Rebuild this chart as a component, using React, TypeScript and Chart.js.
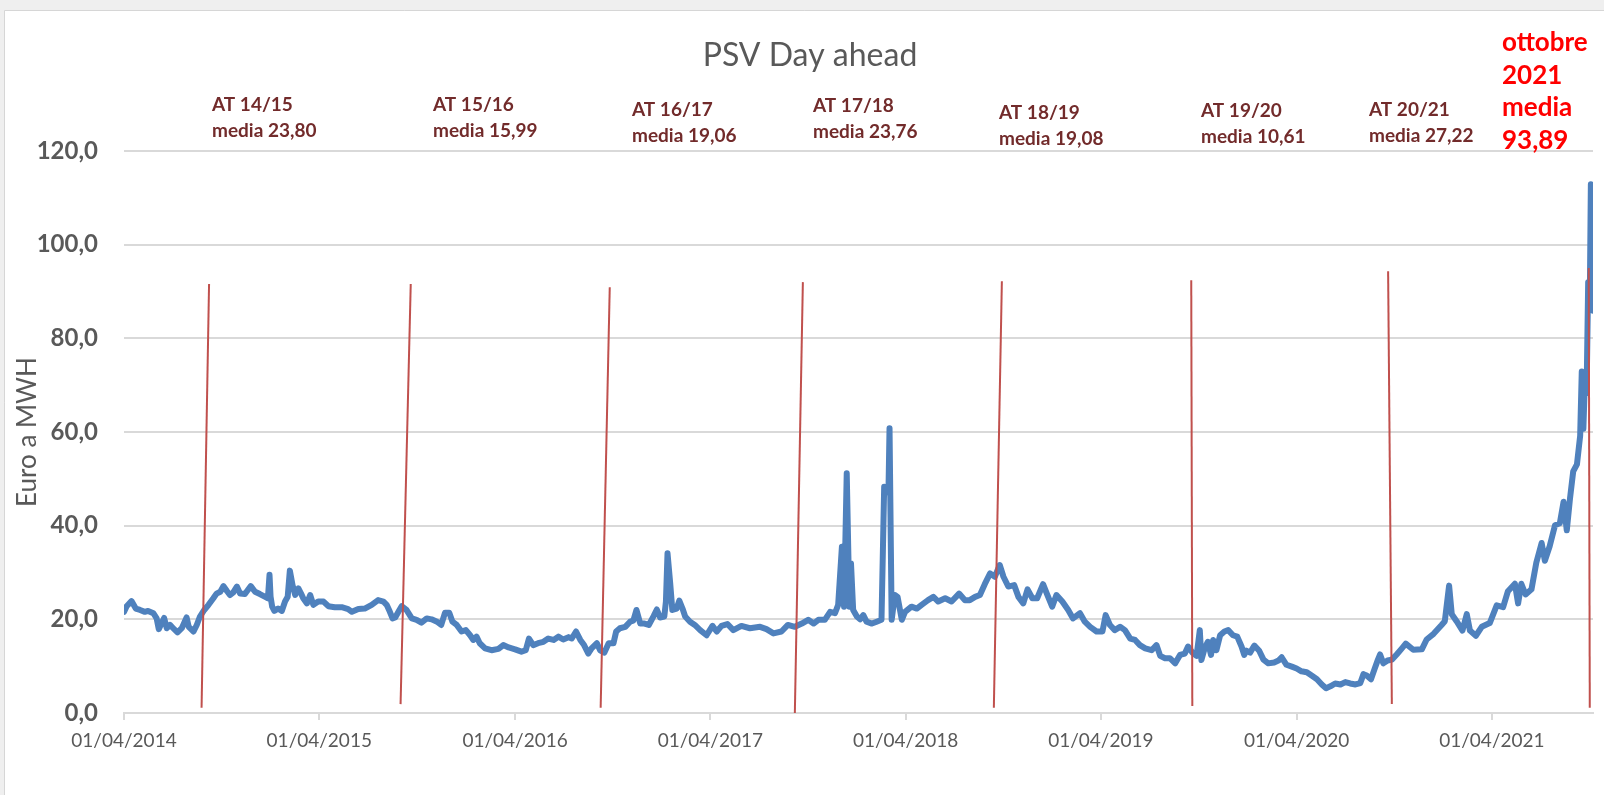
import React, { useEffect, useRef } from 'react';
import { Chart, registerables } from 'chart.js';

Chart.register(...registerables);

// ---- DATA ----
// x: days since 01/04/2014, y: PSV day-ahead price (Euro a MWH)
const days = [
  0, 5, 14, 22, 30, 39, 45, 55, 61, 65, 70, 75, 80, 86, 92, 100, 108, 117, 121, 130, 136, 142, 150, 158, 167, 173, 180, 186, 192, 198,
  204, 211, 217, 226, 237, 245, 254, 264, 269, 272, 274, 277, 281, 288, 295, 301, 306, 310, 315, 320, 326, 331, 335, 342, 348, 354, 363, 373, 382, 394,
  407, 419, 426, 438, 450, 463, 475, 485, 491, 497, 502, 507, 513, 519, 528, 538, 547, 556, 566, 575, 585, 593, 600, 608, 614, 622, 631, 639, 647, 653,
  659, 665, 675, 687, 700, 709, 719, 731, 743, 751, 757, 765, 774, 784, 793, 803, 812, 821, 831, 837, 845, 853, 860, 868, 874, 884, 890, 898, 906, 915,
  920, 927, 937, 946, 952, 958, 965, 973, 981, 990, 996, 1002, 1010, 1013, 1016, 1021, 1025, 1033, 1038, 1044, 1049, 1058, 1067, 1077, 1089, 1100, 1108, 1117, 1128, 1139,
  1154, 1170, 1189, 1201, 1214, 1229, 1241, 1254, 1267, 1279, 1289, 1298, 1310, 1320, 1329, 1335, 1342, 1346, 1351, 1356, 1359, 1363, 1370, 1376, 1382, 1388, 1398, 1407, 1416, 1421,
  1429, 1431, 1435, 1441, 1446, 1454, 1460, 1472, 1482, 1491, 1503, 1513, 1522, 1535, 1547, 1561, 1572, 1581, 1591, 1600, 1609, 1619, 1628, 1637, 1644, 1653, 1664, 1672, 1681, 1689,
  1698, 1707, 1718, 1726, 1735, 1743, 1754, 1765, 1774, 1787, 1796, 1806, 1818, 1829, 1835, 1843, 1852, 1862, 1871, 1881, 1890, 1899, 1909, 1921, 1930, 1937, 1946, 1955, 1965, 1974,
  1983, 1989, 1997, 2005, 2011, 2014, 2020, 2026, 2032, 2036, 2042, 2049, 2057, 2064, 2073, 2081, 2089, 2094, 2098, 2105, 2113, 2122, 2130, 2139, 2150, 2158, 2164, 2173, 2183, 2192,
  2201, 2211, 2220, 2230, 2239, 2247, 2255, 2264, 2274, 2283, 2292, 2302, 2311, 2317, 2323, 2331, 2338, 2344, 2348, 2354, 2362, 2370, 2379, 2388, 2396, 2410, 2426, 2435, 2448, 2463,
  2469, 2477, 2482, 2491, 2502, 2510, 2516, 2527, 2538, 2553, 2566, 2578, 2587, 2600, 2606, 2612, 2620, 2631, 2640, 2650, 2656, 2665, 2675, 2684, 2691, 2697, 2703, 2709, 2716, 2722,
  2725, 2728, 2731, 2734, 2737, 2740, 2742, 2745, 2746,
];
const prices = [
  21.6, 22.8, 23.9, 22.3, 22.0, 21.6, 21.8, 21.3, 20.2, 17.9, 19.1, 20.3, 18.1, 18.8, 18.1, 17.2, 18.1, 20.4, 18.4, 17.4, 18.8, 20.6, 22.0, 23.1, 24.5, 25.5, 25.9, 27.1, 26.1, 25.2,
  25.7, 27.0, 25.5, 25.4, 27.1, 25.9, 25.4, 24.8, 24.5, 29.5, 24.8, 22.7, 21.8, 22.3, 21.8, 23.8, 24.8, 30.4, 27.3, 25.2, 26.6, 25.5, 24.5, 23.4, 25.2, 23.1, 23.8, 23.8, 22.8, 22.6,
  22.6, 22.2, 21.6, 22.2, 22.3, 23.1, 24.1, 23.8, 23.1, 21.6, 20.2, 20.4, 21.6, 22.8, 22.0, 20.2, 19.9, 19.3, 20.2, 20.0, 19.5, 18.8, 21.4, 21.4, 19.5, 18.8, 17.4, 17.7, 16.6, 15.6,
  16.3, 14.9, 13.8, 13.4, 13.7, 14.5, 14.0, 13.6, 13.1, 13.4, 15.9, 14.5, 14.9, 15.2, 15.9, 15.6, 16.3, 15.7, 16.2, 15.9, 17.4, 15.6, 14.5, 12.7, 13.8, 14.9, 13.4, 12.9, 14.9, 14.9,
  17.4, 18.1, 18.4, 19.5, 19.7, 22.0, 19.1, 19.1, 18.8, 20.7, 22.1, 20.4, 20.6, 23.8, 34.1, 27.7, 22.0, 22.3, 24.0, 22.3, 20.6, 19.5, 18.8, 17.7, 16.6, 18.6, 17.4, 18.6, 19.0, 17.7,
  18.6, 18.1, 18.4, 17.9, 17.0, 17.4, 18.8, 18.4, 19.1, 19.9, 19.1, 19.9, 19.9, 21.6, 21.3, 23.1, 35.5, 22.7, 51.2, 22.7, 31.9, 22.0, 20.6, 20.0, 20.9, 19.5, 19.1, 19.5, 19.9, 48.3,
  47.0, 60.8, 19.9, 25.2, 24.8, 19.9, 21.6, 22.7, 22.3, 23.1, 24.1, 24.8, 23.8, 24.5, 23.8, 25.5, 24.1, 24.1, 24.8, 25.2, 27.5, 29.8, 29.1, 31.6, 29.1, 27.0, 27.3, 24.8, 23.4, 26.4,
  24.5, 24.5, 27.5, 25.2, 22.7, 25.2, 23.8, 22.0, 20.2, 21.3, 19.5, 18.4, 17.4, 17.4, 20.9, 18.8, 17.7, 18.4, 17.7, 15.9, 15.6, 14.5, 13.8, 13.4, 14.5, 12.2, 11.7, 11.7, 10.6, 12.4,
  12.7, 14.2, 12.9, 12.2, 17.7, 11.3, 13.8, 15.2, 12.4, 15.6, 13.4, 16.6, 17.4, 17.7, 16.6, 16.3, 14.2, 12.4, 13.3, 12.9, 14.4, 13.3, 11.4, 10.6, 10.8, 11.2, 11.9, 10.3, 9.9, 9.5,
  8.9, 8.7, 8.0, 7.2, 6.1, 5.3, 5.7, 6.3, 6.1, 6.6, 6.3, 6.1, 6.4, 8.3, 8.0, 7.2, 9.5, 11.4, 12.5, 10.6, 11.2, 11.4, 12.5, 13.7, 14.8, 13.5, 13.6, 15.7, 16.9, 18.8,
  19.6, 27.2, 21.1, 19.6, 17.6, 21.1, 17.6, 16.5, 18.4, 19.2, 23.0, 22.6, 26.0, 27.6, 23.4, 27.6, 25.3, 26.4, 32.1, 36.3, 32.5, 35.6, 40.1, 40.5, 45.1, 39.0, 45.8, 51.6, 53.1, 59.2,
  72.9, 60.7, 71.4, 68.3, 92.0, 88.2, 112.9, 88.2, 85.9,
];

const tickDays = [0, 365, 731, 1096, 1461, 1826, 2192, 2557];
const tickLabels = ['01/04/2014', '01/04/2015', '01/04/2016', '01/04/2017', '01/04/2018', '01/04/2019', '01/04/2020', '01/04/2021'];
const yMin = 0;
const yMax = 120;
const yStep = 20;

// hand-drawn thermal-year separators (start/end in days, values)
const sepBottomDays = [145, 517, 891, 1254, 1626, 1997, 2370, 2740];
const sepBottomValues = [1.1, 1.9, 1.1, 0.0, 1.1, 1.5, 1.9, 1.1];
const sepTopDays = [159, 536, 908, 1269, 1641, 1995, 2363, 2738];
const sepTopValues = [91.6, 91.6, 90.9, 92.0, 92.2, 92.4, 94.3, 95.0];

const seasonNames = ['AT 14/15', 'AT 15/16', 'AT 16/17', 'AT 17/18', 'AT 18/19', 'AT 19/20', 'AT 20/21'];
const seasonMeans = ['media 23,80', 'media 15,99', 'media 19,06', 'media 23,76', 'media 19,08', 'media 10,61', 'media 27,22'];
const octoberLines = ['ottobre', '2021', 'media', '93,89'];

const TITLE = 'PSV Day ahead';
const Y_TITLE = 'Euro a MWH';

// ---- LAYOUT (pixels) ----
const W = 1604;
const H = 795;
const seasonLabelX = [212, 433, 632, 813, 999, 1201, 1369];
const seasonLabelY = [105, 105, 110, 106, 113, 111, 110];
const octoberX = 1502;
const octoberY0 = 43;
const octoberStep = 32.5;

const FONT = 'Lato, "Open Sans", "DejaVu Sans", sans-serif';
const GREY = '#595959';
const GRID = '#d9d9d9';

const framePlugin = {
  id: 'frame',
  beforeDraw(chart: any) {
    const ctx = chart.ctx;
    ctx.save();
    ctx.fillStyle = '#efefef';
    ctx.fillRect(0, 0, W, H);
    ctx.fillStyle = '#ffffff';
    ctx.fillRect(5, 11, W - 5, H - 11);
    ctx.strokeStyle = '#d6d6d6';
    ctx.lineWidth = 1;
    ctx.beginPath();
    ctx.moveTo(4.5, H);
    ctx.lineTo(4.5, 10.5);
    ctx.lineTo(W, 10.5);
    ctx.stroke();
    ctx.restore();
  },
  afterDraw(chart: any) {
    const ctx = chart.ctx;
    ctx.save();
    ctx.textBaseline = 'middle';
    // title
    ctx.fillStyle = GREY;
    ctx.font = `32px ${FONT}`;
    ctx.textAlign = 'center';
    ctx.fillText(TITLE, 810, 56);
    // season annotations
    ctx.textAlign = 'left';
    ctx.fillStyle = '#722b2b';
    ctx.font = `bold 19px ${FONT}`;
    seasonNames.forEach((name, i) => {
      ctx.fillText(name, seasonLabelX[i], seasonLabelY[i]);
      ctx.fillText(seasonMeans[i], seasonLabelX[i], seasonLabelY[i] + 26);
    });
    // october annotation
    ctx.fillStyle = '#ff0000';
    ctx.font = `bold 26px ${FONT}`;
    octoberLines.forEach((t, i) => {
      ctx.fillText(t, octoberX, octoberY0 + i * octoberStep);
    });
    ctx.restore();
  },
};

export default function App() {
  const ref = useRef<HTMLCanvasElement | null>(null);

  useEffect(() => {
    document.body.style.margin = '0';
    const canvas = ref.current;
    if (!canvas) return;

    const sepDatasets = sepBottomDays.map((bd, i) => ({
      label: 'sep' + i,
      data: [
        { x: bd, y: sepBottomValues[i] },
        { x: sepTopDays[i], y: sepTopValues[i] },
      ],
      borderColor: '#c0504d',
      borderWidth: 2,
      pointRadius: 0,
      tension: 0,
      order: 0,
    }));

    const chart = new Chart(canvas, {
      type: 'line',
      data: {
        datasets: [
          ...sepDatasets,
          {
            label: 'PSV',
            data: days.map((d, i) => ({ x: d, y: prices[i] })),
            borderColor: '#4f81bd',
            borderWidth: 6,
            pointRadius: 0,
            tension: 0,
            borderJoinStyle: 'round',
            borderCapStyle: 'round',
            order: 1,
          },
        ],
      },
      options: {
        responsive: false,
        animation: false,
        events: [],
        layout: { padding: { top: 151, right: 11, left: 0, bottom: 0 } },
        plugins: {
          legend: { display: false },
          title: { display: false },
          tooltip: { enabled: false },
        },
        scales: {
          x: {
            type: 'linear',
            min: 0,
            max: days[days.length - 1],
            afterBuildTicks: (scale: any) => {
              scale.ticks = tickDays.map((v) => ({ value: v }));
            },
            afterFit: (scale: any) => {
              scale.height = 82;
            },
            ticks: {
              autoSkip: false,
              maxRotation: 0,
              padding: 9,
              color: GREY,
              font: { family: FONT, size: 19 },
              callback: (_v: any, i: number) => tickLabels[i],
            },
            grid: {
              drawOnChartArea: false,
              drawTicks: true,
              tickLength: 7,
              color: GRID,
              lineWidth: 2,
            },
            border: { display: true, color: GRID, width: 2 },
          },
          y: {
            min: yMin,
            max: yMax,
            afterFit: (scale: any) => {
              scale.width = 124;
            },
            ticks: {
              stepSize: yStep,
              padding: 26,
              color: GREY,
              font: { family: FONT, size: 24, weight: 'bold' },
              callback: (v: any) => Number(v).toFixed(1).replace('.', ','),
            },
            grid: { color: GRID, lineWidth: 2, drawTicks: false },
            border: { display: false },
            title: {
              display: true,
              text: Y_TITLE,
              color: GREY,
              font: { family: FONT, size: 26 },
              padding: { top: 12, bottom: 0 },
            },
          },
        },
      },
      plugins: [framePlugin],
    } as any);

    return () => chart.destroy();
  }, []);

  return (
    <div style={{ width: W, height: H, position: 'relative' }}>
      <canvas ref={ref} width={W} height={H} style={{ display: 'block', width: W, height: H }} />
    </div>
  );
}
